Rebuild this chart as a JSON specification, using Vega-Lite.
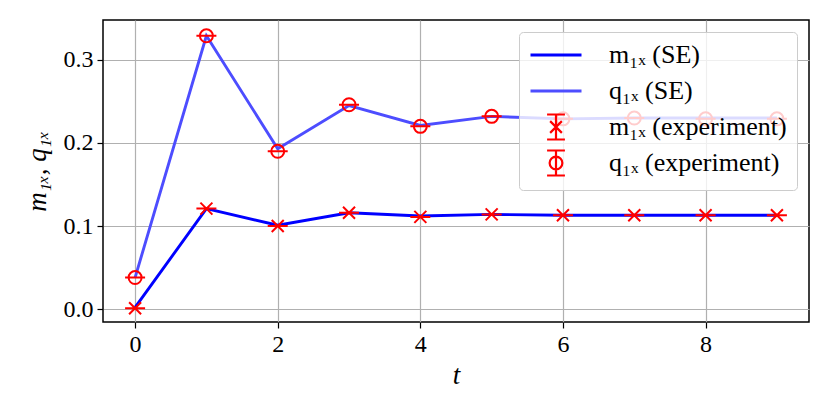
{
  "$schema": "https://vega.github.io/schema/vega-lite/v6.json",
  "width": 706,
  "height": 302,
  "autosize": "none",
  "padding": {"left": 103, "top": 20, "right": 21, "bottom": 93},
  "config": {
    "font": "Liberation Serif",
    "view": {"stroke": "#000000", "strokeWidth": 1.5},
    "axis": {
      "domain": false,
      "grid": true,
      "gridColor": "#b0b0b0",
      "gridWidth": 1.2,
      "tickColor": "#000000",
      "tickSize": 6,
      "tickWidth": 1.2,
      "labelFont": "Liberation Serif",
      "labelFontSize": 24,
      "labelColor": "#000000",
      "labelPadding": 4,
      "titleFont": "Liberation Serif",
      "titleFontSize": 27,
      "titleFontWeight": "normal",
      "titleFontStyle": "italic",
      "titleColor": "#000000"
    }
  },
  "data": {
    "values": [
      {"t": 0, "series": "m₁ₓ (SE)", "value": 0.002},
      {"t": 1, "series": "m₁ₓ (SE)", "value": 0.121},
      {"t": 2, "series": "m₁ₓ (SE)", "value": 0.101},
      {"t": 3, "series": "m₁ₓ (SE)", "value": 0.116},
      {"t": 4, "series": "m₁ₓ (SE)", "value": 0.112},
      {"t": 5, "series": "m₁ₓ (SE)", "value": 0.114},
      {"t": 6, "series": "m₁ₓ (SE)", "value": 0.113},
      {"t": 7, "series": "m₁ₓ (SE)", "value": 0.113},
      {"t": 8, "series": "m₁ₓ (SE)", "value": 0.113},
      {"t": 9, "series": "m₁ₓ (SE)", "value": 0.113},
      {"t": 0, "series": "q₁ₓ (SE)", "value": 0.038},
      {"t": 1, "series": "q₁ₓ (SE)", "value": 0.329},
      {"t": 2, "series": "q₁ₓ (SE)", "value": 0.193},
      {"t": 3, "series": "q₁ₓ (SE)", "value": 0.245},
      {"t": 4, "series": "q₁ₓ (SE)", "value": 0.221},
      {"t": 5, "series": "q₁ₓ (SE)", "value": 0.232},
      {"t": 6, "series": "q₁ₓ (SE)", "value": 0.229},
      {"t": 7, "series": "q₁ₓ (SE)", "value": 0.230},
      {"t": 8, "series": "q₁ₓ (SE)", "value": 0.230},
      {"t": 9, "series": "q₁ₓ (SE)", "value": 0.230},
      {"t": 0, "series": "m₁ₓ (experiment)", "value": 0.001},
      {"t": 1, "series": "m₁ₓ (experiment)", "value": 0.121},
      {"t": 2, "series": "m₁ₓ (experiment)", "value": 0.100},
      {"t": 3, "series": "m₁ₓ (experiment)", "value": 0.116},
      {"t": 4, "series": "m₁ₓ (experiment)", "value": 0.111},
      {"t": 5, "series": "m₁ₓ (experiment)", "value": 0.114},
      {"t": 6, "series": "m₁ₓ (experiment)", "value": 0.113},
      {"t": 7, "series": "m₁ₓ (experiment)", "value": 0.113},
      {"t": 8, "series": "m₁ₓ (experiment)", "value": 0.113},
      {"t": 9, "series": "m₁ₓ (experiment)", "value": 0.113},
      {"t": 0, "series": "q₁ₓ (experiment)", "value": 0.038},
      {"t": 1, "series": "q₁ₓ (experiment)", "value": 0.329},
      {"t": 2, "series": "q₁ₓ (experiment)", "value": 0.190},
      {"t": 3, "series": "q₁ₓ (experiment)", "value": 0.246},
      {"t": 4, "series": "q₁ₓ (experiment)", "value": 0.220},
      {"t": 5, "series": "q₁ₓ (experiment)", "value": 0.232},
      {"t": 6, "series": "q₁ₓ (experiment)", "value": 0.229},
      {"t": 7, "series": "q₁ₓ (experiment)", "value": 0.230},
      {"t": 8, "series": "q₁ₓ (experiment)", "value": 0.229},
      {"t": 9, "series": "q₁ₓ (experiment)", "value": 0.229}
    ]
  },
  "encoding": {
    "x": {
      "field": "t", "type": "quantitative",
      "scale": {"domain": [-0.45, 9.45], "nice": false, "zero": false},
      "axis": {"values": [0, 2, 4, 6, 8], "format": "d", "title": "t", "titlePadding": 6}
    },
    "y": {
      "field": "value", "type": "quantitative",
      "scale": {"domain": [-0.0155, 0.348], "nice": false, "zero": false},
      "axis": {"values": [0, 0.1, 0.2, 0.3], "format": ".1f", "title": "m₁ₓ, q₁ₓ", "titlePadding": 12}
    }
  },
  "layer": [
    {
      "transform": [{"filter": "indexof(datum.series, '(SE)') >= 0"}],
      "mark": {"type": "line", "strokeWidth": 2.9},
      "encoding": {
        "color": {
          "field": "series", "type": "nominal",
          "scale": {
            "domain": ["m₁ₓ (SE)", "q₁ₓ (SE)", "m₁ₓ (experiment)", "q₁ₓ (experiment)"],
            "range": ["#0000ff", "#4d4dff", "#ff0000", "#ff0000"]
          },
          "legend": {
            "title": null,
            "orient": "top-right",
            "offset": 12,
            "padding": 10,
            "fillColor": "rgba(255,255,255,0.8)",
            "strokeColor": "#cccccc",
            "cornerRadius": 4,
            "symbolSize": 2601,
            "symbolStrokeWidth": 2.9,
            "symbolFillColor": "transparent",
            "symbolOffset": 14,
            "labelFont": "Liberation Serif",
            "labelFontSize": 26,
            "labelColor": "#000000",
            "labelOffset": 40,
            "labelLimit": 400,
            "gridAlign": "all",
            "rowPadding": 2,
            "encode": {
              "symbols": {
                "update": {
                  "shape": {"signal": "datum.index < 2 ? 'M-1,0L1,0' : (datum.index == 2 ? 'M0,-0.49L0,0.49M-0.35,-0.49L0.35,-0.49M-0.35,0.49L0.35,0.49M-0.23,-0.23L0.23,0.23M-0.23,0.23L0.23,-0.23' : 'M0,-0.49L0,0.49M-0.35,-0.49L0.35,-0.49M-0.35,0.49L0.35,0.49M0.25,0A0.25,0.25 0 1,1 -0.25,0A0.25,0.25 0 1,1 0.25,0')"},
                  "strokeWidth": {"signal": "datum.index < 2 ? 2.9 : 2.2"},
                  "fill": {"value": "transparent"},
                  "opacity": {"value": 1}
                }
              }
            }
          }
        }
      }
    },
    {
      "transform": [{"filter": "datum.series == 'm₁ₓ (experiment)'"}],
      "mark": {
        "type": "point",
        "shape": "M-1,0L1,0M-0.6,-0.6L0.6,0.6M-0.6,0.6L0.6,-0.6",
        "size": 400,
        "filled": false,
        "color": "#ff0000",
        "strokeWidth": 2,
        "opacity": 1
      }
    },
    {
      "transform": [{"filter": "datum.series == 'q₁ₓ (experiment)'"}],
      "mark": {
        "type": "point",
        "shape": "M-1,0L1,0M0.65,0A0.65,0.65 0 1,1 -0.65,0A0.65,0.65 0 1,1 0.65,0",
        "size": 400,
        "filled": false,
        "fill": "transparent",
        "color": "#ff0000",
        "strokeWidth": 2,
        "opacity": 1
      }
    }
  ]
}
